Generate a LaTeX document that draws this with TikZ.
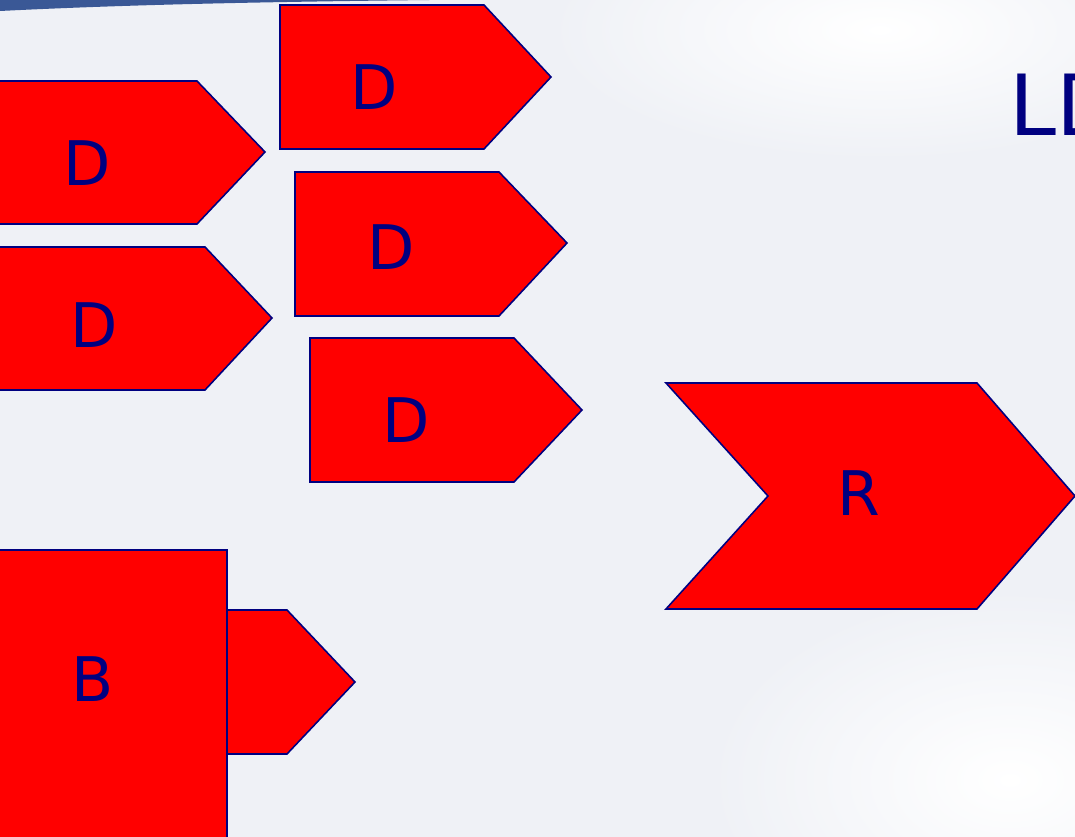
\documentclass[tikz,border=0pt]{standalone}
\usepackage{fontspec}
\setmainfont{DejaVu Sans}
\definecolor{fond}{RGB}{239,241,246}
\definecolor{marine}{RGB}{0,0,128}
\definecolor{bandeau}{RGB}{58,88,150}
\begin{document}
\begin{tikzpicture}[x=0.02cm,y=-0.02cm]
\tikzset{bloc/.style={draw=marine, fill=red, line width=0.9pt, line join=miter},
lettre/.style={text=marine, inner sep=0pt, font=\fontsize{35}{40}\selectfont}}
\useasboundingbox (0,0) rectangle (1075,837);
\clip (0,0) rectangle (1075,837);
% fond de la diapo
\fill[fond] (0,0) rectangle (1075,837);
\shade[inner color=white, outer color=fond] (880,30) ellipse (330 and 130);
\shade[inner color=white, outer color=fond] (1010,780) ellipse (300 and 190);
\fill[bandeau] (0,0) -- (430,0) .. controls (250,2) and (120,5) .. (0,11) -- cycle;
% les fleches D
\filldraw[bloc] (-20,81) -- (197,81) -- (265,152) -- (197,224) -- (-20,224) -- cycle;
\filldraw[bloc] (-1,247) -- (205,247) -- (272,318) -- (205,390) -- (-1,390) -- cycle;
\filldraw[bloc] (280,5) -- (484,5) -- (551,77) -- (484,149) -- (280,149) -- cycle;
\filldraw[bloc] (295,172) -- (499,172) -- (567,243) -- (499,316) -- (295,316) -- cycle;
\filldraw[bloc] (310,338) -- (514,338) -- (582,410) -- (514,482) -- (310,482) -- cycle;
% chevron R
\filldraw[bloc] (666,383) -- (977,383) -- (1075,496) -- (977,609) -- (666,609) -- (768,496) -- cycle;
% bloc B
\filldraw[bloc] (227,610) -- (287,610) -- (355,682) -- (287,754) -- (227,754) -- cycle;
\filldraw[bloc] (-1,550) rectangle (227,850);
% lettres
\node[lettre] (D1) at (87,163) {D};
\node[lettre] (D2) at (94,325) {D};
\node[lettre] (D3) at (374,87) {D};
\node[lettre] (D4) at (391,247) {D};
\node[lettre] (D5) at (406,420) {D};
\node[lettre] (R) at (859,493) {R};
\node[lettre] (B) at (93,679) {B};
\node[text=marine, inner sep=0pt, anchor=base west, font=\fontsize{48}{56}\selectfont] (LD) at (1009,136) {LD};
\end{tikzpicture}
\end{document}
